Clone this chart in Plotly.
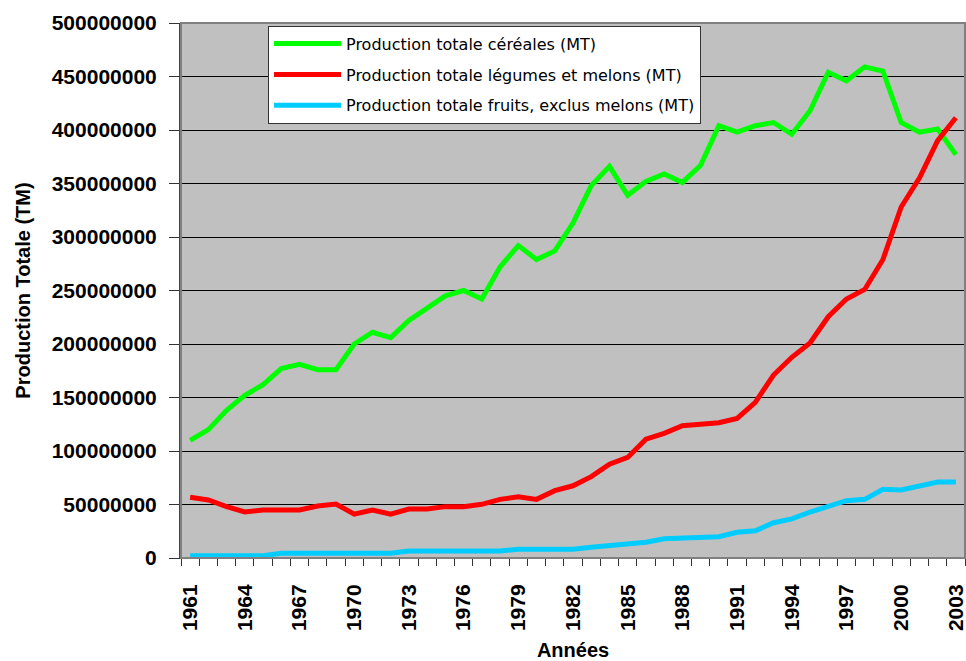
import plotly.graph_objects as go

years = list(range(1961, 2004))

cereales = [110e6, 120e6, 138e6, 152e6, 162e6, 177e6, 181e6, 176e6, 176e6, 200e6,
            211e6, 206e6, 222e6, 234e6, 245e6, 250e6, 242e6, 272e6, 292e6, 279e6,
            287e6, 313e6, 348e6, 366e6, 339e6, 352e6, 359e6, 351e6, 367e6, 404e6,
            398e6, 404e6, 407e6, 396e6, 418e6, 454e6, 446e6, 459e6, 455e6, 407e6,
            398e6, 401e6, 377e6]

legumes = [56.7e6, 54.2e6, 48e6, 43e6, 44.9e6, 44.9e6, 44.9e6, 48.6e6, 50.5e6, 41e6,
           44.9e6, 41e6, 45.8e6, 45.8e6, 48e6, 48e6, 50.2e6, 54.8e6, 57.3e6, 54.8e6,
           62.9e6, 67.5e6, 76e6, 87.6e6, 94e6, 111e6, 116.5e6, 123.7e6, 125e6, 126.5e6,
           130.5e6, 145.5e6, 171e6, 187.6e6, 201e6, 225.5e6, 242e6, 251e6, 279e6, 328e6,
           355e6, 390e6, 411.5e6]

fruits = [2.2e6, 2.2e6, 2.2e6, 2.2e6, 2.2e6, 4.4e6, 4.4e6, 4.4e6, 4.4e6, 4.4e6,
          4.4e6, 4.4e6, 6.5e6, 6.5e6, 6.5e6, 6.5e6, 6.5e6, 6.5e6, 8.1e6, 8.1e6,
          8.1e6, 8.1e6, 10e6, 11.8e6, 13e6, 14.7e6, 18e6, 18.4e6, 19.9e6, 19.9e6,
          24e6, 25.5e6, 33e6, 36.5e6, 43e6, 48e6, 53.6e6, 54.8e6, 64.2e6, 63.6e6,
          67.3e6, 71e6, 71e6]

series_names = ["Production totale céréales (MT)",
                "Production totale légumes et melons (MT)",
                "Production totale fruits, exclus melons (MT)"]
series_values = [cereales, legumes, fruits]
series_colors = ["#00FF00", "#FF0000", "#00CCFF"]

label_years = list(range(1961, 2004, 3))
y_ticks = list(range(0, 500000001, 50000000))

fig = go.Figure()
for i, (name, vals, col) in enumerate(zip(series_names, series_values, series_colors)):
    fig.add_trace(go.Scatter(
        x=years, y=vals, mode="lines", name=name,
        line=dict(color=col, width=5), legendgroup=f"g{i}",
    ))

fig.update_layout(
    width=966, height=661,
    margin=dict(l=181, r=1, t=23, b=103, autoexpand=False),
    paper_bgcolor="white",
    plot_bgcolor="#C0C0C0",
    font=dict(family="Liberation Sans, Arial, sans-serif", color="black"),
    showlegend=True,
    legend=dict(
        x=0.111, y=0.995, xanchor="left", yanchor="top",
        bgcolor="white", bordercolor="#333333", borderwidth=1,
        font=dict(family="DejaVu Sans, sans-serif", size=16, color="black"),
        traceorder="grouped", tracegroupgap=7,
        itemwidth=67,
    ),
    xaxis=dict(
        range=[1960.5, 2003.5],
        tickmode="array", tickvals=label_years, ticktext=[str(y) for y in label_years],
        tickangle=-90, ticks="",
        tickfont=dict(family="Liberation Sans, Arial, sans-serif", size=21, color="black", weight="bold"),
        ticklabelstandoff=17, ticklabeloverflow="allow",
        minor=dict(tickmode="linear", tick0=1960.5, dtick=1, ticks="outside",
                   ticklen=7, tickwidth=1, tickcolor="#333333", showgrid=False),
        showgrid=False, zeroline=False,
        showline=True, linecolor="#333333", linewidth=1,
        title=dict(text="<b>Années</b>", font=dict(size=20), standoff=14),
    ),
    yaxis=dict(
        range=[0, 500000000],
        tickmode="array", tickvals=y_ticks, tickformat="d",
        ticks="outside", ticklen=10, tickcolor="#333333", tickwidth=1,
        tickfont=dict(family="Liberation Sans, Arial, sans-serif", size=21, color="black", weight="bold"),
        ticklabelstandoff=8,
        showgrid=True, gridcolor="black", gridwidth=1,
        zeroline=False,
        showline=True, linecolor="#444444", linewidth=2,
        title=dict(text="<b>Production Totale (TM)</b>", font=dict(size=20), standoff=16),
    ),
)

# plot-area border (top and right)
fig.add_shape(type="rect", xref="x domain", yref="y domain", x0=0, x1=1, y0=0, y1=1,
              line=dict(color="#808080", width=2), layer="above")

fig.write_html("out.html",
               config={"displayModeBar": False},
               post_script="document.body.style.margin='0';document.body.style.overflow='hidden';")
